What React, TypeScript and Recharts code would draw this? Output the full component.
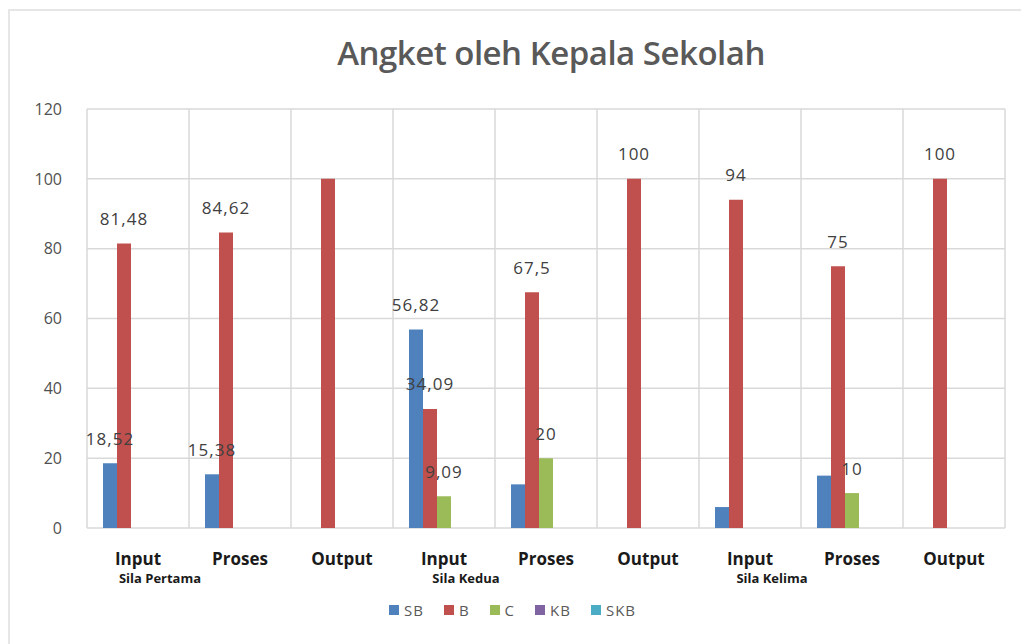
import React from 'react';
import { BarChart, Bar, XAxis, YAxis, CartesianGrid, Legend, LabelList } from 'recharts';

const categories = ['Input', 'Proses', 'Output', 'Input', 'Proses', 'Output', 'Input', 'Proses', 'Output'];
const groups = ['Sila Pertama', '', '', 'Sila Kedua', '', '', 'Sila Kelima', '', ''];
const sbValues = [18.52, 15.38, 0, 56.82, 12.5, 0, 6, 15, 0];
const bValues = [81.48, 84.62, 100, 34.09, 67.5, 100, 94, 75, 100];
const cValues = [0, 0, 0, 9.09, 20, 0, 0, 10, 0];
const kbValues = [0, 0, 0, 0, 0, 0, 0, 0, 0];
const skbValues = [0, 0, 0, 0, 0, 0, 0, 0, 0];
const sbLabels = ['18,52', '15,38', '', '56,82', '', '', '', '', ''];
const bLabels = ['81,48', '84,62', '', '34,09', '67,5', '100', '94', '75', '100'];
const cLabels = ['', '', '', '9,09', '20', '', '', '10', ''];
const yTicks = [0, 20, 40, 60, 80, 100, 120];

const seriesNames = ['SB', 'B', 'C', 'KB', 'SKB'];
const seriesColors = ['#4F81BD', '#C0504D', '#9BBB59', '#8064A2', '#4BACC6'];

const data = categories.map((c, i) => ({
  idx: i,
  cat: c,
  group: groups[i],
  SB: sbValues[i],
  B: bValues[i],
  C: cValues[i],
  KB: kbValues[i],
  SKB: skbValues[i],
  sbL: sbLabels[i],
  bL: bLabels[i],
  cL: cLabels[i],
}));

const FONT = '"Open Sans", sans-serif';

const renderLabel = (props: any) => {
  const { x, y, width, value } = props;
  if (!value) return null;
  return (
    <text x={Number(x) + Number(width) / 2} y={Number(y) - 25} textAnchor="middle" dominantBaseline="central"
      fontFamily={FONT} fontSize={17} fill="#404040" letterSpacing={1}>
      {value}
    </text>
  );
};

const XTick = (props: any) => {
  const { x, y, payload } = props;
  const i = payload.index;
  const g = groups[i];
  return (
    <g>
      <text x={x} y={y + 29} textAnchor="middle" fontFamily={FONT} fontSize={17} fontWeight="bold" fill="#1a1a1a">
        {categories[i]}
      </text>
      {g ? (
        <text x={x + 22} y={y + 47} textAnchor="middle" fontFamily={FONT} fontSize={13} fontWeight="bold" fill="#1a1a1a">
          {g}
        </text>
      ) : null}
    </g>
  );
};

const LegendContent = () => (
  <div style={{ display: 'flex', justifyContent: 'center', gap: 20, fontFamily: FONT, fontSize: 15, color: '#595959', marginLeft: 20, marginTop: 12 }}>
    {seriesNames.map((n, i) => (
      <div key={n} style={{ display: 'flex', alignItems: 'center', gap: 5 }}>
        <div style={{ width: 10, height: 10, background: seriesColors[i] }} />
        <span style={{ letterSpacing: 1 }}>{n}</span>
      </div>
    ))}
  </div>
);

export default function App() {
  return (
    <div style={{ position: 'fixed', left: 0, top: 0, width: 1021, height: 644, background: '#fff', overflow: 'hidden' }}>
      <div style={{ position: 'absolute', left: 8, top: 9, width: 1030, height: 660, border: '2px solid #E6E6E6', boxSizing: 'border-box' }} />
      <div style={{ position: 'absolute', left: 0, width: 1102, top: 30, textAlign: 'center', fontFamily: FONT, fontSize: 33, fontWeight: 600, color: '#595959', letterSpacing: -0.5 }}>
        Angket oleh Kepala Sekolah
      </div>
      <div style={{ position: 'absolute', left: 0, top: 0 }}>
        <BarChart width={1021} height={644} data={data} margin={{ top: 109, right: 16, bottom: 18, left: 0 }} barGap={0} barSize={14}>
          <CartesianGrid stroke="#D9D9D9" strokeWidth={1.5}
            verticalCoordinatesGenerator={({ offset }: any) => categories.map((_, i) => offset.left + (i * offset.width) / categories.length).concat([offset.left + offset.width])}
          />
          <XAxis dataKey="idx" tick={<XTick />} axisLine={false} tickLine={false} height={60} interval={0} />
          <YAxis domain={[0, 120]} ticks={yTicks} width={87} axisLine={false} tickLine={false} tickSize={0} tickMargin={25}
            tick={{ fontFamily: FONT, fontSize: 16, fill: '#505050' }} />
          <Legend verticalAlign="bottom" height={38} content={<LegendContent />} />
          <Bar dataKey="SB" fill={seriesColors[0]} isAnimationActive={false}>
            <LabelList dataKey="sbL" content={renderLabel} />
          </Bar>
          <Bar dataKey="B" fill={seriesColors[1]} isAnimationActive={false}>
            <LabelList dataKey="bL" content={renderLabel} />
          </Bar>
          <Bar dataKey="C" fill={seriesColors[2]} isAnimationActive={false}>
            <LabelList dataKey="cL" content={renderLabel} />
          </Bar>
          <Bar dataKey="KB" fill={seriesColors[3]} isAnimationActive={false} />
          <Bar dataKey="SKB" fill={seriesColors[4]} isAnimationActive={false} />
        </BarChart>
      </div>
    </div>
  );
}
